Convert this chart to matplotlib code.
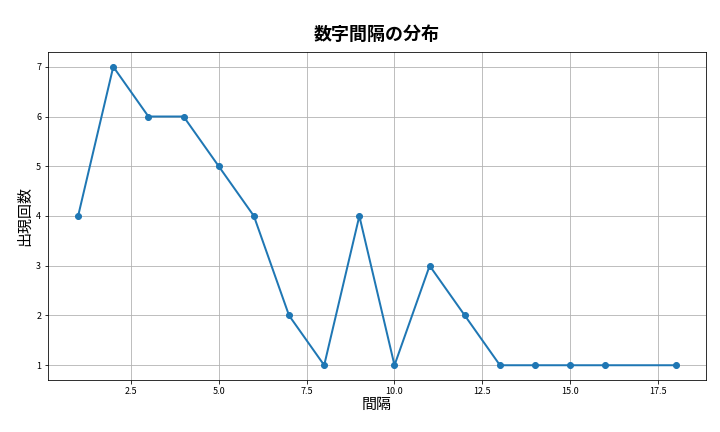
import matplotlib
matplotlib.use("Agg")
import matplotlib.pyplot as plt

plt.rcParams["font.family"] = "Noto Sans CJK JP"

intervals = [1, 2, 3, 4, 5, 6, 7, 8, 9, 10, 11, 12, 13, 14, 15, 16, 18]
counts = [4, 7, 6, 6, 5, 4, 2, 1, 4, 1, 3, 2, 1, 1, 1, 1, 1]

fig, ax = plt.subplots(figsize=(10, 6), dpi=72)
ax.plot(intervals, counts, marker="o", linewidth=2, color="#1f77b4")
ax.set_title("数字間隔の分布", fontsize=18, fontweight="bold", pad=12)
ax.set_xlabel("間隔", fontsize=15, labelpad=2)
ax.set_ylabel("出現回数", fontsize=15, labelpad=4)
ax.grid(True, color="#b0b0b0", linewidth=0.8)
ax.tick_params(labelsize=9)
fig.subplots_adjust(left=0.067, right=0.98, top=0.88, bottom=0.12)
fig.savefig("out.png", dpi=72)
